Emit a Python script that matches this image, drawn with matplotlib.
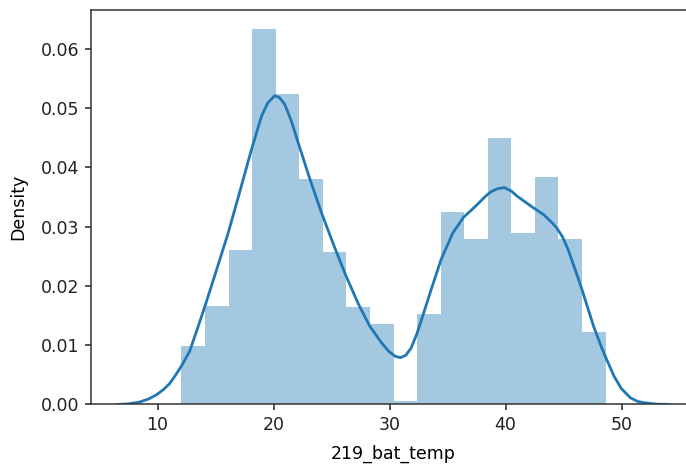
import matplotlib
matplotlib.use('Agg')
import matplotlib.pyplot as plt
import numpy as np

plt.rcParams['font.size'] = 12.5

# histogram (density)
data_min = 12.06
data_max = 48.62
n_bins = 18
densities = [0.0099, 0.0166, 0.0261, 0.0634, 0.0524, 0.0381, 0.0257, 0.0164, 0.0136,
             0.0005, 0.0153, 0.0325, 0.0279, 0.0449, 0.0289, 0.0383, 0.0279, 0.0122]

# kde curve
kde_x = [6.59, 7.5, 8.45, 9.2, 9.89, 10.5, 11.03, 11.5, 12.03, 12.75, 13.4, 14.07,
         15.0, 16.08, 17.1, 18.09, 18.95, 19.5, 20.09, 20.5, 20.95, 21.5, 22.1, 23.1,
         24.1, 25.2, 26.26, 27.3, 28.26, 29.27, 29.9, 30.5, 30.95, 31.4, 31.85, 32.37,
         32.9, 33.57, 34.43, 35.44, 36.38, 37.0, 37.59, 38.2, 38.73, 39.3, 39.88, 40.5,
         41.03, 42.46, 43.3, 43.89, 44.4, 44.9, 45.4, 45.9, 46.5, 47.05, 47.6, 48.2,
         48.62, 49.34, 49.97, 50.77, 51.4, 51.9, 53.0, 54.07]
kde_y = [0.0, 0.0001, 0.0004, 0.0009, 0.0016, 0.0025, 0.0035, 0.0048, 0.0064, 0.0089,
         0.0126, 0.0165, 0.0222, 0.0289, 0.0360, 0.0430, 0.0486, 0.0509, 0.0521, 0.0518,
         0.0507, 0.0480, 0.0443, 0.0382, 0.0325, 0.0268, 0.0216, 0.0170, 0.0133, 0.0105,
         0.0090, 0.0081, 0.0079, 0.0083, 0.0095, 0.0120, 0.0152, 0.0193, 0.0244, 0.0289,
         0.0316, 0.0327, 0.0338, 0.0350, 0.0359, 0.0364, 0.0366, 0.0360, 0.0351, 0.0331,
         0.0320, 0.0309, 0.0298, 0.0283, 0.0261, 0.0233, 0.0199, 0.0165, 0.0131, 0.0100,
         0.0080, 0.0048, 0.0027, 0.0011, 0.0005, 0.0003, 0.00005, 0.0]

fig = plt.figure(figsize=(6.86, 4.67), dpi=100)
ax = fig.add_axes([0.132, 0.134, 0.883, 0.845])

edges = np.linspace(data_min, data_max, n_bins + 1)
ax.bar(edges[:-1], densities, width=np.diff(edges), align='edge',
       color='#1f77b4', alpha=0.4, linewidth=0)
ax.plot(kde_x, kde_y, color='#1f77b4', lw=2, solid_joinstyle='round')

ax.set_xlim(4.22, 56.44)
ax.set_ylim(0, 0.0666)
ax.set_xticks([10, 20, 30, 40, 50])
ax.set_yticks([0, 0.01, 0.02, 0.03, 0.04, 0.05, 0.06])
ax.set_yticklabels(['0.00', '0.01', '0.02', '0.03', '0.04', '0.05', '0.06'])
ax.tick_params(length=4.5, width=1.1, colors='#222222')
for s in ax.spines.values():
    s.set_linewidth(1.1)
    s.set_color('#333333')

ax.set_xlabel('219_bat_temp', labelpad=8)
ax.set_ylabel('Density', labelpad=10)

fig.savefig('out.png', dpi=100)
